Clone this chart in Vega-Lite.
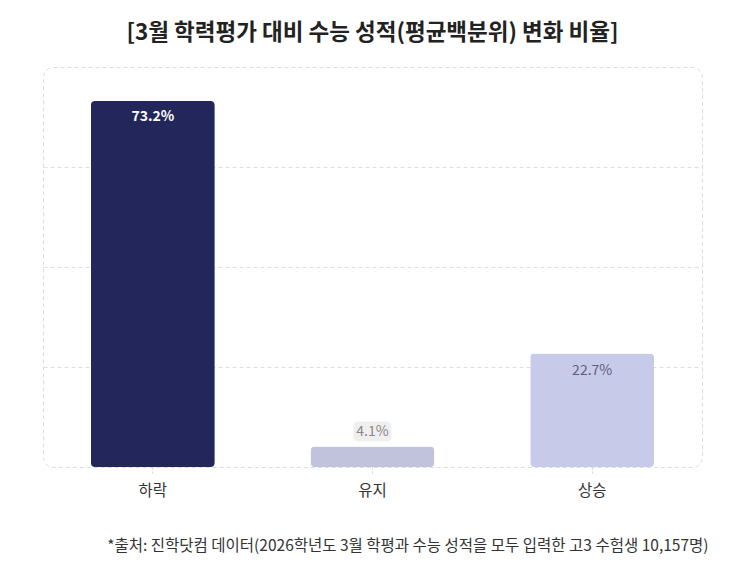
{
  "$schema": "https://vega.github.io/schema/vega-lite/v6.json",
  "width": 659,
  "height": 400,
  "autosize": {"type": "none"},
  "padding": {"left": 43, "top": 67, "right": 46, "bottom": 97},
  "background": "white",
  "config": {
    "font": "Noto Sans CJK KR",
    "view": {"stroke": "#dcdcdc", "strokeDash": [4, 3], "strokeWidth": 1, "cornerRadius": 10}
  },
  "title": {
    "text": "[3월 학력평가 대비 수능 성적(평균백분위) 변화 비율]",
    "fontSize": 22.5,
    "fontWeight": "bold",
    "color": "#222222",
    "anchor": "middle",
    "offset": 23
  },
  "data": {
    "values": [
      {"category": "하락", "value": 73.2, "label": "73.2%"},
      {"category": "유지", "value": 4.1, "label": "4.1%"},
      {"category": "상승", "value": 22.7, "label": "22.7%"}
    ]
  },
  "encoding": {
    "x": {
      "field": "category",
      "type": "nominal",
      "sort": ["하락", "유지", "상승"],
      "scale": {"paddingInner": 0.436, "paddingOuter": 0.218},
      "axis": {
        "title": "*출처: 진학닷컴 데이터(2026학년도 3월 학평과 수능 성적을 모두 입력한 고3 수험생 10,157명)",
        "titleFontSize": 15.5,
        "titleFontWeight": "normal",
        "titleColor": "#333333",
        "titleAnchor": "end",
        "titleAlign": "right",
        "titleBaseline": "middle",
        "titleX": 665,
        "titleY": 78,
        "labelAngle": 0,
        "labelFontSize": 15.5,
        "labelColor": "#333333",
        "labelPadding": 9,
        "domain": false,
        "ticks": true,
        "tickSize": 7,
        "tickColor": "#d5d5d5",
        "tickDash": [2, 2]
      }
    },
    "y": {
      "field": "value",
      "type": "quantitative",
      "scale": {"domain": [0, 80]},
      "axis": {
        "title": null,
        "labels": false,
        "ticks": false,
        "domain": false,
        "values": [20, 40, 60],
        "gridColor": "#dedede",
        "gridDash": [4, 3]
      }
    }
  },
  "layer": [
    {
      "mark": {"type": "bar", "cornerRadius": 4},
      "encoding": {
        "color": {
          "field": "category",
          "type": "nominal",
          "scale": {"domain": ["하락", "유지", "상승"], "range": ["#23265a", "#c1c3dc", "#c8cae9"]},
          "legend": null
        }
      }
    },
    {
      "transform": [{"filter": "datum.category == '하락'"}],
      "mark": {"type": "text", "baseline": "middle", "dy": 16, "fontSize": 14, "fontWeight": "bold", "color": "white"},
      "encoding": {"text": {"field": "label"}}
    },
    {
      "transform": [{"filter": "datum.category == '상승'"}],
      "mark": {"type": "text", "baseline": "middle", "dy": 17, "fontSize": 14, "color": "#5d5f7c"},
      "encoding": {"text": {"field": "label"}}
    },
    {
      "transform": [{"filter": "datum.category == '유지'"}],
      "mark": {
        "type": "point",
        "filled": true,
        "opacity": 1,
        "size": 400,
        "color": "#efefef",
        "shape": "M-1.35,-2.5 L1.35,-2.5 Q1.9,-2.5 1.9,-1.95 L1.9,-1.05 Q1.9,-0.5 1.35,-0.5 L-1.35,-0.5 Q-1.9,-0.5 -1.9,-1.05 L-1.9,-1.95 Q-1.9,-2.5 -1.35,-2.5 Z"
      }
    },
    {
      "transform": [{"filter": "datum.category == '유지'"}],
      "mark": {"type": "text", "baseline": "middle", "dy": -15, "fontSize": 14, "color": "#888888"},
      "encoding": {"text": {"field": "label"}}
    }
  ]
}
